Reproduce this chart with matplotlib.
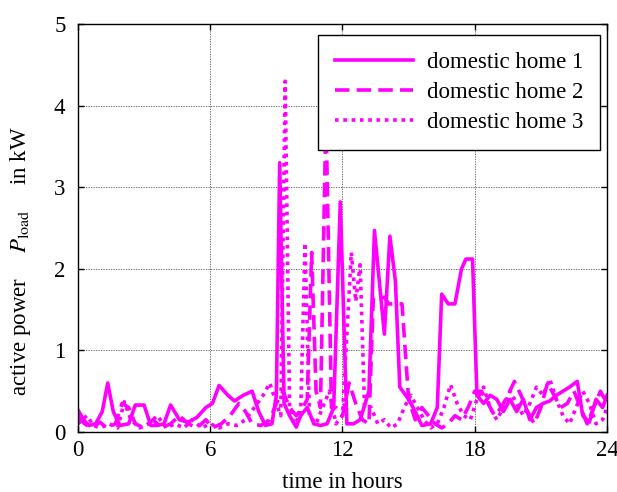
import matplotlib
matplotlib.use('Agg')
import matplotlib.pyplot as plt

font = {'family': 'serif',
        'serif': ['Liberation Serif', 'DejaVu Serif'],
        'size': 16.5}
matplotlib.rc('font', **font)
matplotlib.rc('mathtext', fontset='stix')

# domestic home 1 (solid)
t1 = [0, 0.25, 0.5, 0.8, 1.1, 1.35, 1.6, 1.9, 2.3, 2.6, 3.0, 3.3, 3.6, 3.9, 4.2, 4.6,
      5.0, 5.4, 5.8, 6.1, 6.4, 6.8, 7.1, 7.5, 7.9, 8.2, 8.5, 8.8, 9.0, 9.15, 9.35, 9.6,
      9.9, 10.1, 10.4, 10.7, 11.0, 11.3, 11.6, 11.9, 12.2, 12.5, 12.8, 13.2, 13.45, 13.9,
      14.15, 14.4, 14.6, 15.0, 15.3, 15.6, 16.0, 16.3, 16.5, 16.8, 17.1, 17.4, 17.6, 17.9,
      18.1, 18.4, 18.7, 19.0, 19.3, 19.6, 19.9, 20.2, 20.5, 20.8, 21.1, 21.4, 21.7, 22.0,
      22.3, 22.65, 22.9, 23.2, 23.5, 23.8, 24]
p1 = [0.27, 0.15, 0.08, 0.1, 0.25, 0.6, 0.25, 0.08, 0.1, 0.33, 0.33, 0.08, 0.08, 0.1, 0.33, 0.15,
      0.12, 0.18, 0.3, 0.35, 0.57, 0.45, 0.38, 0.45, 0.5, 0.25, 0.08, 0.1, 0.45, 3.3, 0.35, 0.2,
      0.06, 0.2, 0.3, 0.1, 0.08, 0.1, 0.3, 2.82, 0.1, 0.1, 0.15, 0.5, 2.47, 1.2,
      2.4, 1.85, 0.55, 0.4, 0.25, 0.08, 0.1, 0.3, 1.69, 1.57, 1.57, 2.0, 2.12, 2.12,
      0.45, 0.35, 0.45, 0.4, 0.25, 0.4, 0.25, 0.4, 0.15, 0.3, 0.35, 0.38, 0.45, 0.5,
      0.55, 0.62, 0.2, 0.12, 0.4, 0.3, 0.45]

# domestic home 2 (dashed)
t2 = [0, 0.3, 0.6, 1.0, 1.3, 1.7, 2.0, 2.3, 2.6, 3.0, 3.4, 3.8, 4.2, 4.6, 5.0, 5.4, 5.8,
      6.1, 6.5, 6.9, 7.3, 7.6, 7.9, 8.3, 8.7, 9.0, 9.3, 9.6, 9.9, 10.2, 10.4, 10.6, 10.8,
      11.0, 11.25, 11.5, 11.7, 12.0, 12.3, 12.6, 12.9, 13.2, 13.4, 13.9, 14.1, 14.7, 15.0,
      15.3, 15.6, 15.9, 16.2, 16.5, 16.8, 17.1, 17.4, 17.7, 18.0, 18.3, 18.6, 18.9, 19.2,
      19.5, 19.8, 20.1, 20.4, 20.7, 21.0, 21.3, 21.6, 21.9, 22.2, 22.5, 22.8, 23.1, 23.4,
      23.7, 24]
p2 = [0.2, 0.1, 0.05, 0.12, 0.05, 0.1, 0.35, 0.3, 0.1, 0.05, 0.15, 0.05, 0.1, 0.2, 0.1, 0.05, 0.15,
      0.05, 0.1, 0.2, 0.35, 0.25, 0.1, 0.08, 0.15, 0.35, 0.5, 0.3, 0.2, 0.3, 0.4, 2.2, 0.5,
      0.3, 3.9, 0.3, 0.3, 0.2, 0.6, 0.35, 0.15, 0.1, 1.65, 1.65, 1.57, 1.57, 0.4,
      0.15, 0.3, 0.2, 0.1, 0.05, 0.1, 0.2, 0.15, 0.3, 0.5, 0.5, 0.35, 0.2, 0.3,
      0.45, 0.62, 0.45, 0.25, 0.1, 0.3, 0.6, 0.45, 0.3, 0.35, 0.5, 0.3, 0.1, 0.3,
      0.5, 0.35]

# domestic home 3 (dotted)
t3 = [0, 0.4, 0.7, 1.0, 1.4, 1.8, 2.1, 2.4, 2.8, 3.2, 3.6, 4.0, 4.4, 4.8, 5.2, 5.6, 6.0,
      6.4, 6.8, 7.2, 7.6, 8.0, 8.4, 8.7, 9.0, 9.2, 9.4, 9.6, 9.8, 10.1, 10.3, 10.5, 10.8,
      11.1, 11.4, 11.7, 12.0, 12.4, 12.6, 12.8, 13.0, 13.3, 13.6, 13.9, 14.2, 14.5, 14.8,
      15.1, 15.4, 15.7, 16.0, 16.3, 16.6, 16.9, 17.2, 17.5, 17.8, 18.1, 18.4, 18.7, 19.0,
      19.3, 19.6, 19.9, 20.2, 20.5, 20.8, 21.1, 21.4, 21.7, 22.0, 22.3, 22.6, 22.9, 23.2,
      23.5, 23.8, 24]
p3 = [0.1, 0.2, 0.08, 0.05, 0.1, 0.05, 0.37, 0.15, 0.05, 0.1, 0.2, 0.05, 0.1, 0.05, 0.15, 0.05, 0.1,
      0.05, 0.1, 0.08, 0.15, 0.3, 0.45, 0.6, 0.35, 0.2, 4.3, 0.3, 0.1, 0.2, 2.32, 0.2, 0.1,
      0.3, 0.5, 0.1, 0.2, 2.2, 1.6, 2.05, 0.3, 0.3, 0.1, 0.15, 0.05, 0.1, 0.3,
      0.45, 0.3, 0.15, 0.05, 0.1, 0.3, 0.58, 0.35, 0.2, 0.15, 0.4, 0.55, 0.3, 0.15,
      0.3, 0.5, 0.35, 0.2, 0.35, 0.55, 0.45, 0.65, 0.4, 0.2, 0.1, 0.3, 0.5, 0.35,
      0.1, 0.15, 0.3]

labels = ['domestic home 1', 'domestic home 2', 'domestic home 3']
xticks = [0, 6, 12, 18, 24]
yticks = [0, 1, 2, 3, 4, 5]

fig = plt.figure(figsize=(6.17, 4.92), dpi=100)
ax = fig.add_axes([0.1264, 0.122, 0.8574, 0.829])

col = '#ff00ff'
ax.plot(t1, p1, color=col, lw=2.6, ls='-', label=labels[0])
ax.plot(t2, p2, color=col, lw=2.6, ls=(0, (4, 2)), label=labels[1])
ax.plot(t3, p3, color=col, lw=2.6, ls=(0, (1, 1.3)), label=labels[2])

ax.set_xlim(0, 24)
ax.set_ylim(0, 5)
ax.set_xticks(xticks)
ax.set_yticks(yticks)
ax.grid(True, color='#555555', ls=(0, (1.5, 1.5)), lw=0.6)
ax.tick_params(direction='in', top=True, right=True, length=4, width=1)
ax.tick_params(axis='x', pad=6)
ax.tick_params(axis='y', pad=9)
for s in ax.spines.values():
    s.set_linewidth(1.0)

ax.set_xlabel('time in hours', labelpad=8)
ax.set_ylabel(r'active power$\quad\;\; P_{\mathrm{load}}\quad\;\;$in kW')
ax.yaxis.set_label_coords(-0.085, 0.42)

leg = ax.legend(loc='upper right', bbox_to_anchor=(0.987, 0.973), borderaxespad=0,
                fancybox=False, edgecolor='black', framealpha=1, handlelength=3.4,
                labelspacing=0.38, borderpad=0.75, handletextpad=0.6)
leg.get_frame().set_linewidth(1.0)

fig.savefig('out.png', dpi=100)
